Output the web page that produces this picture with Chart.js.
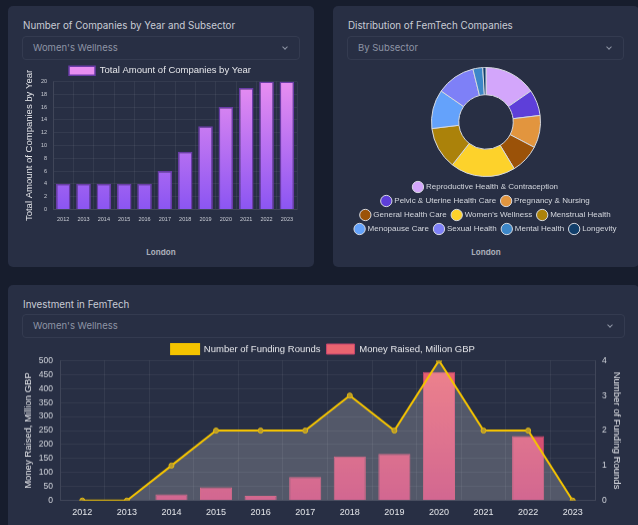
<!DOCTYPE html>
<html>
<head>
<meta charset="utf-8">
<script src="https://cdn.jsdelivr.net/npm/chart.js@4.4.0/dist/chart.umd.min.js"></script>
<style>
  body { margin: 0; width: 638px; height: 525px; overflow: hidden; background: #171d2d; font-family: Inter, 'Open Sans', sans-serif; }
  .card { position: absolute; background: #282f44; border-radius: 5px; }
  .title { position: absolute; left: 15px; top: 14px; font-size: 9.8px; color: #c9ccd5; white-space: nowrap; }
  .select { position: absolute; left: 14px; right: 14px; top: 30px; height: 24px; border: 1px solid #343b50; border-radius: 4px; box-sizing: border-box; }
  .select span { position: absolute; left: 10px; top: 5px; font-size: 9.5px; color: #8e94a4; }
  .select i { position: absolute; right: 12px; top: 8px; width: 3px; height: 3px; border-right: 1px solid #8e94a4; border-bottom: 1px solid #8e94a4; transform: rotate(45deg); }
  .caption { position: absolute; left: 0; right: 0; top: 241px; text-align: center; font-size: 8px; font-weight: bold; color: #a6abb6; }
  .box { position: absolute; }
</style>
</head>
<body>

<div class="card" style="left:8px; top:6px; width:306px; height:261px;">
  <div class="title">Number of Companies by Year and Subsector</div>
  <div class="select"><span>Women's Wellness</span><i></i></div>
  <div class="caption">London</div>
</div>

<div class="card" style="left:333px; top:6px; width:306px; height:261px;">
  <div class="title">Distribution of FemTech Companies</div>
  <div class="select" style="right:15px;"><span>By Subsector</span><i></i></div>
  <div class="caption">London</div>
</div>

<div class="card" style="left:8px; top:285px; width:631px; height:250px;">
  <div class="title">Investment in FemTech</div>
  <div class="select" style="top:29px;"><span>Women's Wellness</span><i></i></div>
</div>

<div class="box" style="left:20px; top:61.5px; width:280px; height:168px;"><canvas id="companiesChart"></canvas></div>
<div class="box" style="left:349px; top:67px; width:274px; height:176px;"><canvas id="subsectorChart"></canvas></div>
<div class="box" style="left:19px; top:338.3px; width:608px; height:185.5px;"><canvas id="investmentChart"></canvas></div>

<script>
const years = ['2012', '2013', '2014', '2015', '2016', '2017', '2018', '2019', '2020', '2021', '2022', '2023'];
const companyCounts = [4, 4, 4, 4, 4, 6, 9, 13, 16, 19, 20, 20];

const subsectors = [
  'Reproductive Health & Contraception', 'Pelvic & Uterine Health Care', 'Pregnancy & Nursing',
  'General Health Care', "Women's Wellness", 'Menstrual Health',
  'Menopause Care', 'Sexual Health', 'Mental Health', 'Longevity'
];
const subsectorCounts = [16, 8, 10, 9, 20, 13, 12, 12, 3, 1];
const subsectorColours = ['#d3a6fb', '#5e3fd9', '#e2953e', '#9b5208', '#fdd22b', '#ab820a', '#64a2fb', '#7e80f7', '#3d87c8', '#123f6b'];

const moneyRaised = [0, 0, 22, 47, 17, 84, 158, 167, 459, 2, 230, 0];
const fundingRounds = [0, 0, 1, 2, 2, 2, 3, 2, 4, 2, 2, 0];

Chart.defaults.font.family = "'Liberation Sans', Arial, sans-serif";
Chart.defaults.color = '#d4d7de';
Chart.defaults.animation = false;

const gridColour = 'rgba(255, 255, 255, 0.06)';

// vertical gradient over the chart area, falls back to the top colour before layout
function verticalGradient(top, bottom) {
  return function (context) {
    const area = context.chart.chartArea;
    if (!area) return top;
    const g = context.chart.ctx.createLinearGradient(0, area.top, 0, area.bottom);
    g.addColorStop(0, top);
    g.addColorStop(1, bottom);
    return g;
  };
}

// pin an axis to a fixed width so the titles sit close to the tick labels
function fixedWidth(px) {
  return function (scale) { scale.width = px; };
}

new Chart(document.getElementById('companiesChart'), {
  type: 'bar',
  data: {
    labels: years,
    datasets: [{
      label: 'Total Amount of Companies by Year',
      data: companyCounts,
      backgroundColor: verticalGradient('#e88ef1', '#8b55f2'),
      borderColor: '#6a3ca8',
      borderWidth: 1.5
    }]
  },
  options: {
    responsive: true,
    maintainAspectRatio: false,
    plugins: {
      legend: {
        maxHeight: 19.5,
        labels: { font: { size: 9.5 }, color: '#e6e7eb', padding: 4, boxWidth: 26, boxHeight: 9 }
      },
      tooltip: { enabled: false }
    },
    scales: {
      x: {
        grid: { color: gridColour, drawTicks: false },
        border: { color: gridColour },
        ticks: { font: { size: 5.5 }, color: '#c9ccd4', padding: 7 }
      },
      y: {
        min: 0,
        max: 20,
        afterFit: fixedWidth(33),
        grid: { color: gridColour, drawTicks: false },
        border: { color: gridColour },
        ticks: { stepSize: 2, font: { size: 5.5 }, color: '#c9ccd4', padding: 6 },
        title: { display: true, text: 'Total Amount of Companies by Year', font: { size: 9.5 }, color: '#e6e7eb', padding: { top: 4, bottom: 0 } }
      }
    }
  }
});

new Chart(document.getElementById('subsectorChart'), {
  type: 'doughnut',
  data: {
    labels: subsectors,
    datasets: [{
      data: subsectorCounts,
      backgroundColor: subsectorColours,
      borderColor: '#d6d9e0',
      borderWidth: 1
    }]
  },
  options: {
    responsive: true,
    maintainAspectRatio: false,
    plugins: {
      legend: {
        position: 'bottom',
        labels: { font: { size: 8 }, color: '#d4d7de', padding: 6, usePointStyle: true, pointStyle: 'circle' }
      },
      tooltip: { enabled: false }
    }
  }
});

new Chart(document.getElementById('investmentChart'), {
  data: {
    labels: years,
    datasets: [{
      type: 'line',
      label: 'Number of Funding Rounds',
      data: fundingRounds,
      yAxisID: 'y1',
      borderColor: '#f5c400',
      backgroundColor: '#f5c400',
      borderWidth: 2,
      tension: 0,
      pointRadius: 2.5,
      pointBackgroundColor: '#b89a2c',
      pointBorderColor: '#e8bd10',
      pointBorderWidth: 1,
      fill: { target: 'origin', above: 'rgba(255, 255, 255, 0.2)' }
    }, {
      type: 'bar',
      label: 'Money Raised, Million GBP',
      data: moneyRaised,
      yAxisID: 'y',
      backgroundColor: verticalGradient('#ea6470', '#c84276'),
      borderColor: '#c8476e',
      borderWidth: 1
    }]
  },
  options: {
    responsive: true,
    maintainAspectRatio: false,
    plugins: {
      legend: {
        maxHeight: 22.4,
        labels: { font: { size: 9.5 }, color: '#e6e7eb', padding: 6, boxWidth: 28, boxHeight: 10 }
      },
      tooltip: { enabled: false }
    },
    scales: {
      x: {
        grid: { color: gridColour, drawTicks: false },
        border: { color: gridColour },
        ticks: { font: { size: 9 }, color: '#e4e6ea', padding: 6.5 }
      },
      y: {
        position: 'left',
        min: 0,
        max: 500,
        afterFit: fixedWidth(41),
        grid: { color: gridColour, drawTicks: false },
        border: { color: gridColour },
        ticks: { stepSize: 50, font: { size: 8.5 }, color: '#d4d7de', padding: 7 },
        title: { display: true, text: 'Money Raised, Million GBP', font: { size: 9.5 }, color: '#e6e7eb', padding: { top: 4, bottom: 0 } }
      },
      y1: {
        position: 'right',
        min: 0,
        max: 4,
        afterFit: fixedWidth(32),
        grid: { drawOnChartArea: false, drawTicks: false },
        border: { color: gridColour },
        ticks: { stepSize: 1, font: { size: 8.5 }, color: '#d4d7de', padding: 7 },
        title: { display: true, text: 'Number of Funding Rounds', font: { size: 9.5 }, color: '#e6e7eb', padding: { top: 4.5, bottom: 0 } }
      }
    }
  }
});
</script>
</body>
</html>
